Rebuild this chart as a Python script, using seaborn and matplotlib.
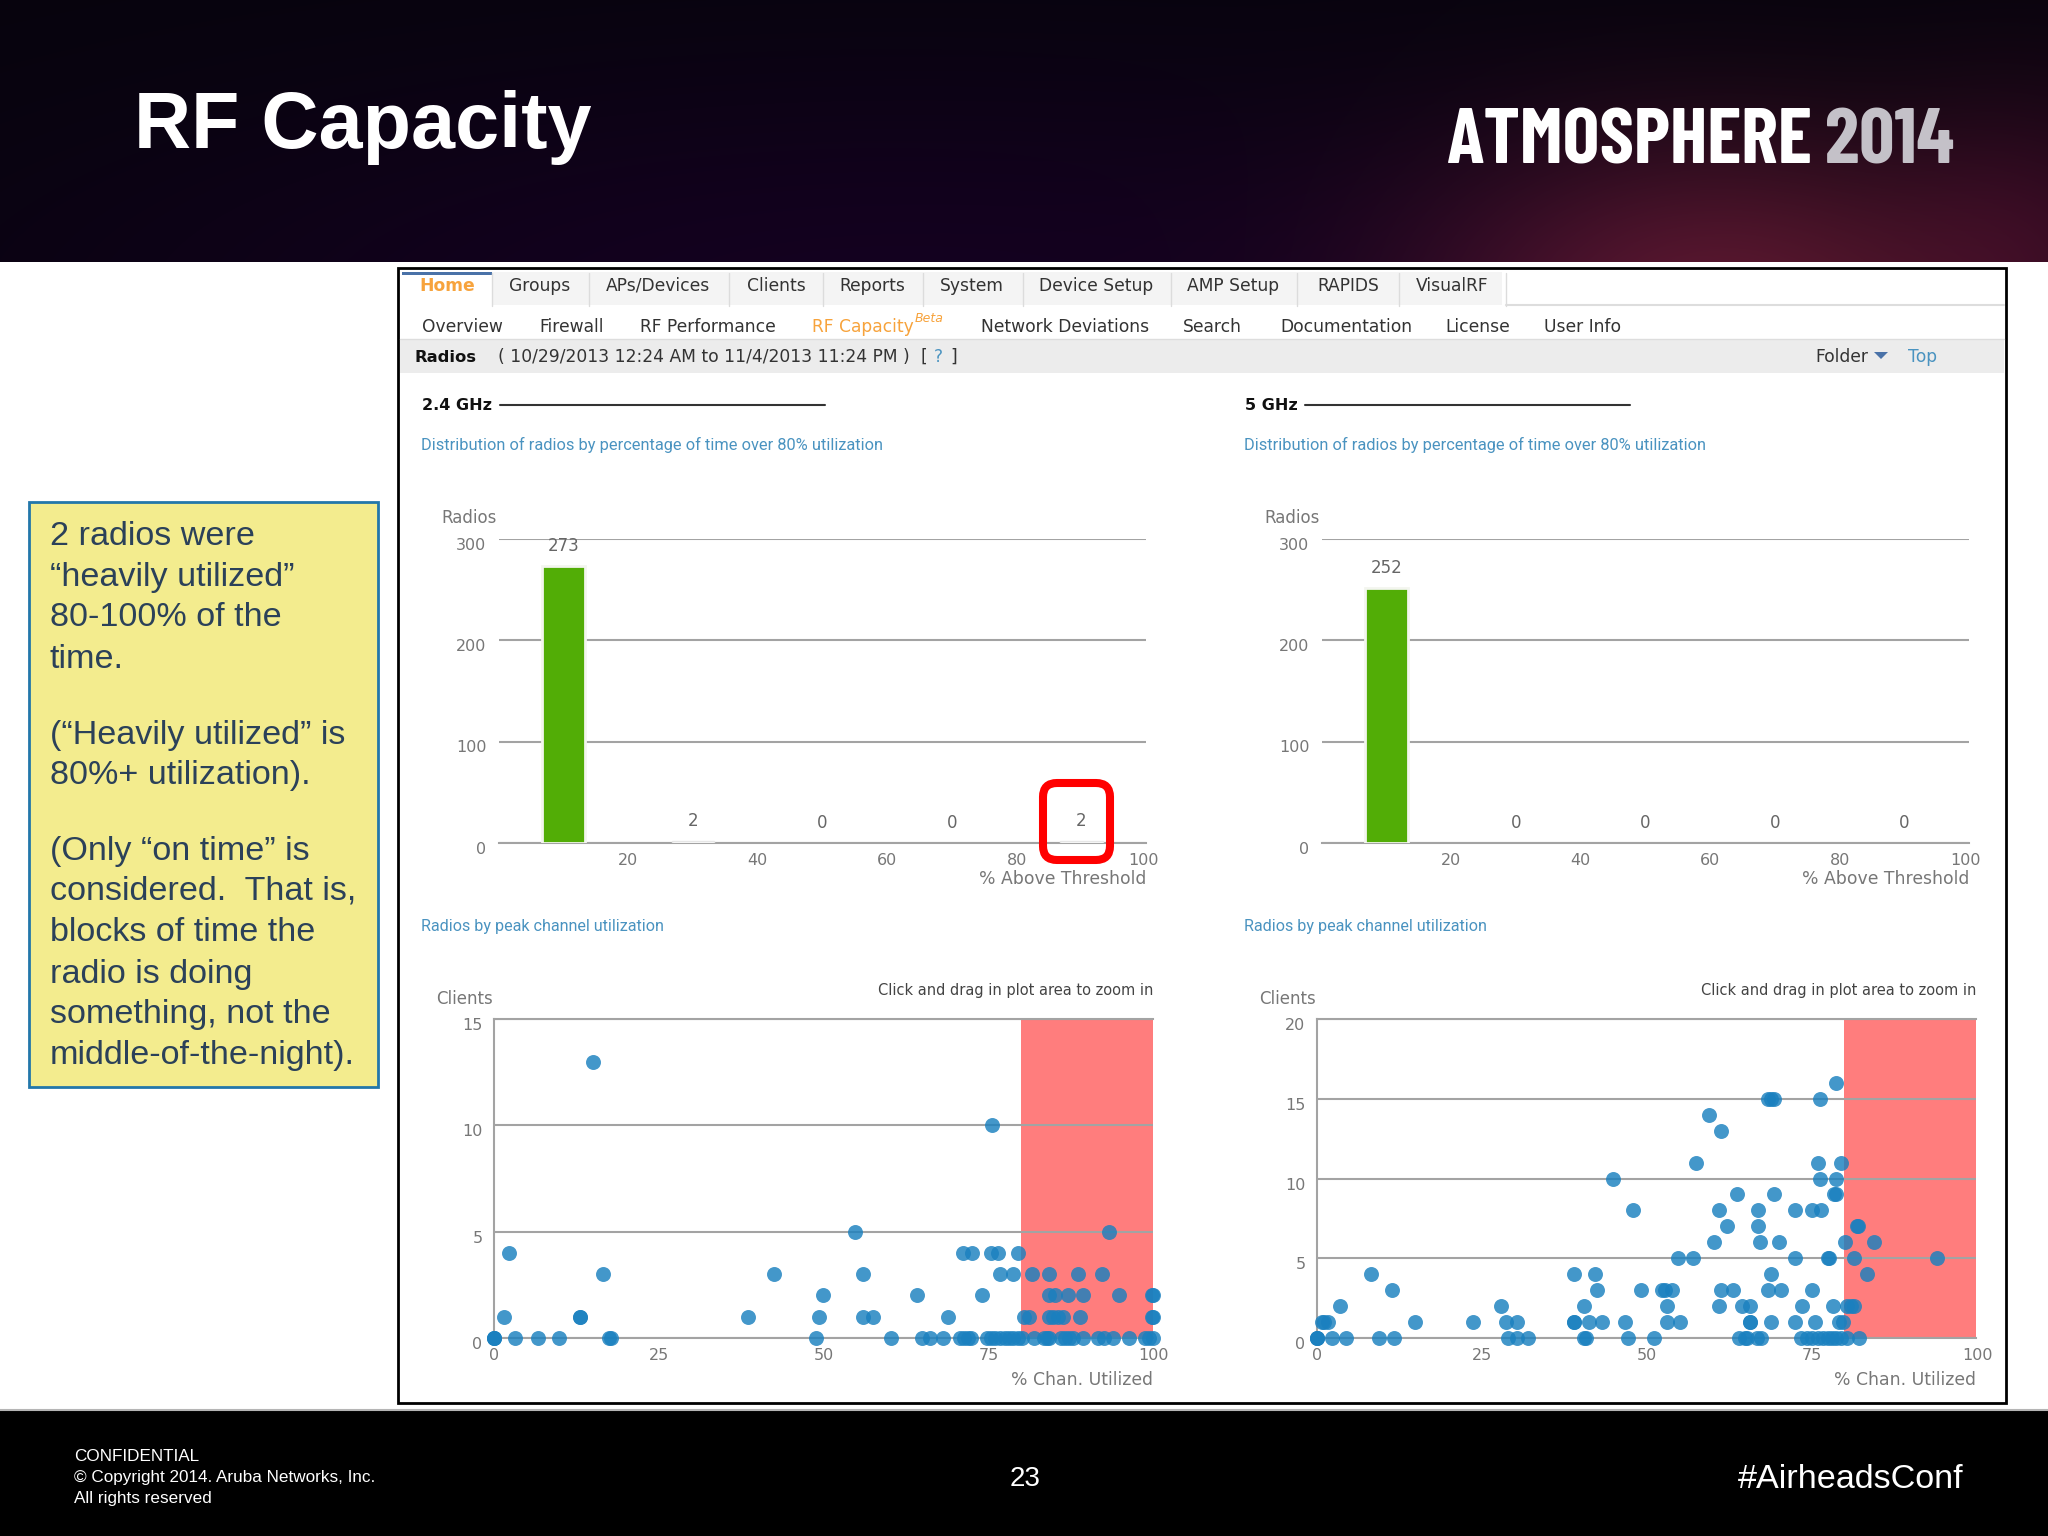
"""RF Capacity slide: radio histograms and peak channel utilization scatters."""

import matplotlib
matplotlib.use("Agg")
import matplotlib.pyplot as plt
import numpy as np
import seaborn as sns
from matplotlib.patches import FancyBboxPatch, Polygon, Rectangle
from matplotlib.transforms import ScaledTranslation

W, H = 2048, 1536

# histogram data
bar_bins = [10, 30, 50, 70, 90]
counts_24 = [273, 2, 0, 0, 2]
counts_5 = [252, 0, 0, 0, 0]
bar_yticks = [0, 100, 200, 300]
bar_xticks = [20, 40, 60, 80, 100]

util_24 = [
    15.1,
    75.6,
    54.8, 93.4,
    2.4, 71.2, 72.5, 75.4, 76.5, 79.6,
    16.6, 42.6, 56.0, 76.8, 78.8, 81.6, 84.2, 88.6, 92.2,
    50.0, 64.2, 74.1, 84.2, 85.1, 87.1, 89.4, 94.9, 99.9, 100.0,
    1.6, 13.1, 13.1, 38.6, 49.3, 56.0, 57.6, 68.9, 80.4, 81.2, 84.2, 84.9, 85.6, 86.3, 89.0, 99.9, 100.0,
    0.0, 0.0, 0.0, 3.3, 6.8, 10.0, 17.5, 17.8, 48.9, 60.3, 65.0, 66.2, 68.2, 70.7, 71.4, 72.0, 72.4,
    74.8, 75.4, 76.1, 76.8, 77.5, 78.1, 78.8, 79.5, 80.2, 81.9, 83.4, 83.9, 84.2,
    86.0, 86.7, 87.3, 87.8, 89.4, 91.6, 92.5, 94.0, 96.4, 98.8, 99.4, 100.0,
]
clients_24 = [
    13,
    10,
    5, 5,
    4, 4, 4, 4, 4, 4,
    3, 3, 3, 3, 3, 3, 3, 3, 3,
    2, 2, 2, 2, 2, 2, 2, 2, 2, 2,
    1, 1, 1, 1, 1, 1, 1, 1, 1, 1, 1, 1, 1, 1, 1, 1, 1,
    0, 0, 0, 0, 0, 0, 0, 0, 0, 0, 0, 0, 0, 0, 0, 0, 0,
    0, 0, 0, 0, 0, 0, 0, 0, 0, 0, 0, 0, 0,
    0, 0, 0, 0, 0, 0, 0, 0, 0, 0, 0, 0,
]

# 5 GHz scatter
util_5 = [
    78.7,
    68.5, 68.9, 69.4, 76.3,
    59.5,
    61.4,
    57.5, 76.0, 79.5,
    44.9, 76.3, 78.7,
    63.8, 69.3, 78.5, 78.7,
    48.0, 61.0, 66.9, 72.5, 75.2, 76.5,
    62.2, 66.9, 82.0, 82.1,
    60.2, 67.3, 70.1, 80.2, 84.6,
    54.8, 57.1, 72.5, 77.5, 77.7, 81.5, 94.1,
    8.3, 39.0, 42.2, 68.9, 83.4,
    11.4, 42.5, 49.2, 52.4, 52.9, 53.9, 61.4, 63.1, 68.5, 70.5, 75.2,
    3.6, 28.0, 40.6, 53.2, 61.0, 64.5, 65.8, 73.6, 78.3, 80.5, 81.1, 81.5,
    0.8, 1.2, 1.7, 15.0, 23.7, 28.8, 30.4, 39.0, 39.0, 41.3, 43.3, 46.8, 53.2, 55.1, 65.7, 65.8, 68.9, 72.5, 75.6, 79.3, 79.8,
    0.0, 0.0, 0.0, 2.4, 4.4, 9.5, 11.8, 29.1, 30.4, 32.0, 40.6, 40.9, 47.2, 51.2, 64.1, 65.0, 65.3, 66.8, 67.4,
    73.5, 74.4, 75.2, 76.1, 76.8, 77.5, 78.1, 78.8, 79.5, 80.4, 82.3,
]
clients_5 = [
    16,
    15, 15, 15, 15,
    14,
    13,
    11, 11, 11,
    10, 10, 10,
    9, 9, 9, 9,
    8, 8, 8, 8, 8, 8,
    7, 7, 7, 7,
    6, 6, 6, 6, 6,
    5, 5, 5, 5, 5, 5, 5,
    4, 4, 4, 4, 4,
    3, 3, 3, 3, 3, 3, 3, 3, 3, 3, 3,
    2, 2, 2, 2, 2, 2, 2, 2, 2, 2, 2, 2,
    1, 1, 1, 1, 1, 1, 1, 1, 1, 1, 1, 1, 1, 1, 1, 1, 1, 1, 1, 1, 1,
    0, 0, 0, 0, 0, 0, 0, 0, 0, 0, 0, 0, 0, 0, 0, 0, 0, 0, 0,
    0, 0, 0, 0, 0, 0, 0, 0, 0, 0, 0,
]

tabs = [("Home", 447), ("Groups", 540), ("APs/Devices", 658), ("Clients", 776), ("Reports", 872),
        ("System", 972), ("Device Setup", 1096), ("AMP Setup", 1233), ("RAPIDS", 1348), ("VisualRF", 1452)]
tab_edges = [492, 589, 729, 823, 923, 1023, 1171, 1297, 1399, 1506]
subnav = [("Overview", 422), ("Firewall", 539), ("RF Performance", 640), ("RF Capacity", 812),
          ("Network Deviations", 981), ("Search", 1183), ("Documentation", 1280), ("License", 1445), ("User Info", 1544)]
sidebar_lines = [("2 radios were", 534), ("\u201cheavily utilized\u201d", 575), ("80-100% of the", 615), ("time.", 657),
                 ("(\u201cHeavily utilized\u201d is", 733), ("80%+ utilization).", 773),
                 ("(Only \u201con time\u201d is", 849), ("considered.  That is,", 889), ("blocks of time the", 930),
                 ("radio is doing", 972), ("something, not the", 1012), ("middle-of-the-night).", 1053)]

GREY_TEXT = "#777777"
GRID = "#a3a3a3"
LINK = "#4a93c0"
ORANGE = "#f7a33c"
DARK = "#333333"

sns.set_theme(style="white")
plt.rcParams["font.family"] = ["DejaVu Sans"]


def px_axes(fig, x0, y0, x1, y1, **kwargs):
    return fig.add_axes([x0 / W, 1 - y1 / H, (x1 - x0) / W, (y1 - y0) / H], **kwargs)


def header_image():
    yy, xx = np.mgrid[0:262, 0:W]
    red = np.exp(-(((xx - 1720) / 300.0) ** 2 + ((yy - 300) / 170.0) ** 2))
    red2 = np.exp(-(((xx - 2048) / 150.0) ** 2 + ((yy - 250) / 170.0) ** 2))
    purple = np.exp(-(((xx - 900) / 900.0) ** 2 + ((yy - 300) / 240.0) ** 2))
    img = np.zeros((262, W, 3))
    img[..., 0] = 6 + 14 * purple + 76 * red + 30 * red2
    img[..., 1] = 4 - 3 * purple + 20 * red + 4 * red2
    img[..., 2] = 12 + 20 * purple + 26 * red + 14 * red2
    return np.clip(img, 0, 255) / 255.0


def nudge(labels, fig, dx=0, dy=0):
    for lab in labels:
        lab.set_transform(lab.get_transform() + ScaledTranslation(dx / 100, dy / 100, fig.dpi_scale_trans))


def draw_bars(fig, x_off, counts):
    ax = px_axes(fig, 499 + x_off, 539, 1146 + x_off, 843)
    sns.barplot(x=bar_bins, y=counts, native_scale=True, width=0.33, color="#52ad06",
                saturation=1, ax=ax, zorder=3)
    for patch, val in zip(ax.containers[0], counts):
        if val == 0:
            patch.set_visible(False)
        elif val < 5:
            patch.set_facecolor("white")
            patch.set_edgecolor("#e6e6e6")
            patch.set_linewidth(1)
        else:
            patch.set_edgecolor("#f3f5ef")
            patch.set_linewidth(2)
    ax.bar_label(ax.containers[0], padding=8, fontsize=12, color="#666666")
    ax.set_xlim(0, 100)
    ax.set_ylim(0, 300)
    ax.set_xticks(bar_xticks)
    ax.set_yticks(bar_yticks)
    ax.yaxis.grid(True, color=GRID, lw=1.5)
    ax.set_axisbelow(True)
    for side in ["top", "left", "right"]:
        ax.spines[side].set_visible(False)
    ax.spines["bottom"].set_color(GRID)
    ax.spines["bottom"].set_linewidth(1.5)
    ax.tick_params(axis="both", length=0, labelsize=11.5, labelcolor=GREY_TEXT)
    ax.tick_params(axis="y", pad=9)
    ax.tick_params(axis="x", pad=7)
    for lab in ax.get_yticklabels():
        lab.set_verticalalignment("top")
    nudge(ax.get_yticklabels(), fig, dy=1.5)
    # the last x label is pulled in slightly on the page
    nudge(ax.get_xticklabels()[-1:], fig, dx=-3)
    ax.patch.set_alpha(0)
    return ax


def draw_scatter(fig, x_off, util, clients, ymax, yticks):
    ax = px_axes(fig, 493.5 + x_off, 1019, 1153 + x_off, 1338)
    ax.axvspan(80, 100, color="#ff7d7d", lw=0, zorder=0)
    sns.scatterplot(x=util, y=clients, color="#1a80bf", alpha=0.82, s=116, linewidth=0,
                    clip_on=False, zorder=3, ax=ax)
    ax.set_xlim(0, 100)
    ax.set_ylim(0, ymax)
    ax.set_xticks([0, 25, 50, 75, 100])
    ax.set_yticks(yticks)
    ax.yaxis.grid(True, color=GRID, lw=1.5)
    ax.set_axisbelow("line")
    ax.spines["right"].set_visible(False)
    for side in ["top", "left", "bottom"]:
        ax.spines[side].set_color(GRID)
        ax.spines[side].set_linewidth(1.5)
    ax.tick_params(axis="both", length=0, labelsize=11.5, labelcolor=GREY_TEXT)
    ax.tick_params(axis="y", pad=8)
    ax.tick_params(axis="x", pad=7)
    for lab in ax.get_yticklabels():
        lab.set_verticalalignment("top")
    nudge(ax.get_yticklabels(), fig, dy=1)
    nudge(ax.get_xticklabels(), fig, dx=1)
    ax.patch.set_alpha(0)
    return ax


fig = plt.figure(figsize=(W / 100, H / 100), dpi=100, facecolor="white")

# slide furniture goes on a full-figure axes in pixel coordinates
bg = px_axes(fig, 0, 0, W, H, zorder=0)
bg.set_xlim(0, W)
bg.set_ylim(H, 0)
bg.axis("off")
bg.imshow(header_image(), extent=(0, W, 262, 0), aspect="auto", zorder=0)
bg.set_xlim(0, W)
bg.set_ylim(H, 0)
bg.add_patch(Rectangle((0, 1410), W, 126, fc="black", ec="none"))
bg.plot([0, W], [1410, 1410], color="#b5b5b5", lw=1.5)

SANS = "Liberation Sans"
LOGO = ["Barlow Condensed", "Liberation Sans"]
bg.text(134, 148, "RF Capacity", color="white", fontsize=57, fontweight="bold", family=SANS, va="baseline")
bg.text(1446, 164, "ATMOSPHERE", color="white", fontsize=56, fontweight="bold", family=LOGO, va="baseline")
bg.text(1954, 164, "2014", color="#c4c1c8", fontsize=56, fontweight="bold", family=LOGO, va="baseline", ha="right")

# sidebar note
bg.add_patch(Rectangle((29, 502), 349, 585, fc="#f3ec8e", ec="#2277aa", lw=2))
for line, yc in sidebar_lines:
    bg.text(50, yc + 11, line, color="#2b4159", fontsize=24.6, family=SANS, va="baseline")

# footer
for line, yb in [("CONFIDENTIAL", 1461), ("\u00a9 Copyright 2014. Aruba Networks, Inc.", 1482), ("All rights reserved", 1503)]:
    bg.text(74, yb, line, color="white", fontsize=12.35, family=SANS, va="baseline")
bg.text(1025, 1486, "23", color="white", fontsize=20, family=SANS, va="baseline", ha="center")
bg.text(1963, 1488, "#AirheadsConf", color="white", fontsize=24.6, family=SANS, va="baseline", ha="right")

# web page frame and navigation
bg.add_patch(Rectangle((398, 268), 1608, 1135, fc="white", ec="black", lw=2))
bg.add_patch(Rectangle((402, 272), 1100, 33, fc="#f4f4f4", ec="none"))
bg.add_patch(Rectangle((402, 272), 90, 34, fc="white", ec="none"))
bg.add_patch(Rectangle((402, 272), 90, 3, fc="#4a72a8", ec="none"))
bg.plot([1506, 2004], [305, 305], color="#dddddd", lw=1.5)
for edge in tab_edges:
    bg.plot([edge, edge], [273, 306], color="#dcdcdc", lw=1)
for (name, xc) in tabs:
    home = name == "Home"
    bg.text(xc, 291, name, ha="center", va="baseline", fontsize=12.3, color=ORANGE if home else DARK,
            fontweight="bold" if home else "normal")
for (name, x0) in subnav:
    bg.text(x0, 332, name, va="baseline", fontsize=12.3, color=ORANGE if name == "RF Capacity" else DARK)
bg.text(915, 319, "Beta", va="center", fontsize=9, style="italic", color=ORANGE)
bg.add_patch(Rectangle((400, 340), 1604, 33, fc="#ececec", ec="none"))
bg.plot([400, 2004], [339, 339], color="#dddddd", lw=1)
bg.text(415, 362, "Radios", va="baseline", fontsize=11.8, fontweight="bold", color="#111111")
bg.text(498, 362, "( 10/29/2013 12:24 AM to 11/4/2013 11:24 PM )", va="baseline", fontsize=12.35, color=DARK)
bg.text(921, 362, "[", va="baseline", fontsize=12.35, color=DARK)
bg.text(934, 362, "?", va="baseline", fontsize=12.35, color=LINK)
bg.text(950, 362, "]", va="baseline", fontsize=12.35, color=DARK)
bg.text(1815, 362, "Folder", va="baseline", fontsize=12.3, color=DARK)
bg.add_patch(Polygon([[1874, 352], [1888, 352], [1881, 359]], fc="#4a72a8", ec="none"))
bg.text(1908, 362, "Top", va="baseline", fontsize=12.3, color=LINK)

for x_off, band, x_line in [(0, "2.4 GHz", (500, 825)), (823, "5 GHz", (1305, 1630))]:
    left = 422 + x_off
    bg.text(left, 405, band, va="center", fontsize=11.5, fontweight="bold", color="#111111")
    bg.plot(x_line, [405, 405], color="#333333", lw=1.5)
    bg.text(421 + x_off, 445, "Distribution of radios by percentage of time over 80% utilization",
            va="center", fontsize=11.8, family="Roboto", color=LINK)
    bg.text(421 + x_off, 926, "Radios by peak channel utilization",
            va="center", fontsize=11.6, family="Roboto", color=LINK)
    bg.text(441 + x_off, 518, "Radios", va="center", fontsize=12, color=GREY_TEXT)
    bg.text(1146 + x_off, 879, "% Above Threshold", va="center", ha="right", fontsize=12.4, color=GREY_TEXT)
    bg.text(436 + x_off, 999, "Clients", va="center", fontsize=12, color=GREY_TEXT)
    bg.text(1153 + x_off, 991, "Click and drag in plot area to zoom in", va="center", ha="right",
            fontsize=10.55, color="#444444")
    bg.text(1153 + x_off, 1380, "% Chan. Utilized", va="center", ha="right", fontsize=12.4, color=GREY_TEXT)

# the charts themselves
draw_bars(fig, 0, counts_24)
draw_bars(fig, 823, counts_5)
draw_scatter(fig, 0, util_24, clients_24, 15, [0, 5, 10, 15])
draw_scatter(fig, 823, util_5, clients_5, 20, [0, 5, 10, 15, 20])

# red highlight over the last bin of the 2.4 GHz histogram
top = px_axes(fig, 0, 0, W, H, zorder=5)
top.set_xlim(0, W)
top.set_ylim(H, 0)
top.axis("off")
top.add_patch(FancyBboxPatch((1053, 793), 47, 57, boxstyle="round,pad=10,rounding_size=14",
                             fc="none", ec="#ff0000", lw=5.8))

fig.savefig("out.png", dpi=100)
plt.close(fig)
